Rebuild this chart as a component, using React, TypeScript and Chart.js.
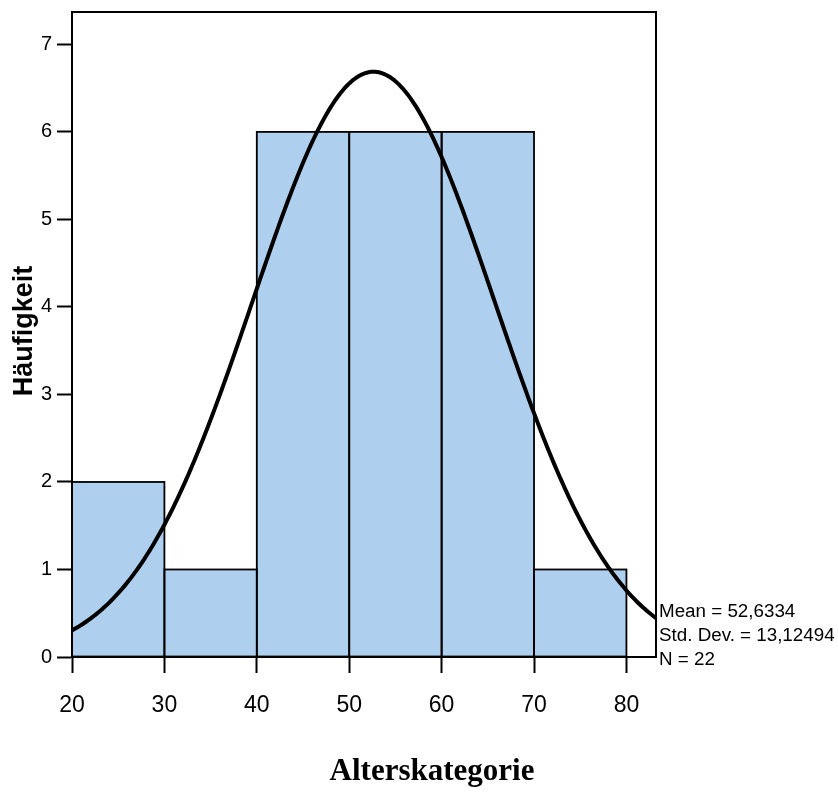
import React, { useEffect, useRef } from 'react';
import { Chart, registerables } from 'chart.js';

Chart.register(...registerables);

// ---- data ----
const BIN_STARTS = [20, 30, 40, 50, 60, 70];
const BIN_WIDTH = 10;
const FREQUENCIES = [2, 1, 6, 6, 6, 1];
const X_TICKS = [20, 30, 40, 50, 60, 70, 80];
const Y_TICKS = [0, 1, 2, 3, 4, 5, 6, 7];
const X_MIN = 20;
const X_MAX = 83.2;
const Y_MAX = 7.37;
const MEAN = 52.6334;
const STD_DEV = 13.12494;
const N = 22;
const STAT_LINES = ['Mean = 52,6334', 'Std. Dev. = 13,12494', 'N = 22'];
const X_TITLE = 'Alterskategorie';
const Y_TITLE = 'Häufigkeit';

const BAR_FILL = 'rgb(174,208,238)';
const SANS = "'Liberation Sans', Arial, sans-serif";
const SERIF = "'Liberation Serif', 'Times New Roman', serif";

function normalCurve() {
  const pts: { x: number; y: number }[] = [];
  const k = (N * BIN_WIDTH) / (STD_DEV * Math.sqrt(2 * Math.PI));
  for (let x = X_MIN; x <= X_MAX + 1e-9; x += 0.2) {
    const z = (x - MEAN) / STD_DEV;
    pts.push({ x, y: k * Math.exp(-0.5 * z * z) });
  }
  return pts;
}

const BAR_INDEX = 1;

const overlay = {
  id: 'overlay',
  afterDatasetDraw(chart: any, args: any) {
    if (args.index !== BAR_INDEX) return;
    const { ctx } = chart;
    const meta = chart.getDatasetMeta(BAR_INDEX);
    ctx.save();
    ctx.strokeStyle = '#000';
    ctx.lineWidth = 1.8;
    meta.data.forEach((el: any) => {
      const { x, y, base, width } = el.getProps(['x', 'y', 'base', 'width'], true);
      ctx.strokeRect(x - width / 2, y, width, base - y);
    });
    ctx.restore();
  },
  afterDatasetsDraw(chart: any) {
    const { ctx, chartArea: a } = chart;
    ctx.save();
    ctx.strokeStyle = '#000';
    ctx.lineWidth = 2;
    ctx.strokeRect(a.left, a.top, a.right - a.left, a.bottom - a.top);
    ctx.restore();
  },
  afterDraw(chart: any) {
    const { ctx, chartArea: a } = chart;
    ctx.save();
    ctx.fillStyle = '#000';
    // stats
    ctx.font = `18.8px ${SANS}`;
    ctx.textAlign = 'left';
    ctx.textBaseline = 'alphabetic';
    STAT_LINES.forEach((t, i) => {
      ctx.fillText(t, a.right + 3, a.bottom - 40 + i * 24);
    });
    // x title
    ctx.font = `bold 31px ${SERIF}`;
    ctx.textAlign = 'center';
    ctx.fillText(X_TITLE, 432, a.bottom + 123);
    // y title
    ctx.translate(32, a.top + (a.bottom - a.top) / 2 - 3.5);
    ctx.rotate(-Math.PI / 2);
    ctx.font = `bold 27px ${SANS}`;
    ctx.textAlign = 'center';
    ctx.textBaseline = 'alphabetic';
    ctx.fillText(Y_TITLE, 0, 0);
    ctx.restore();
  },
};

export default function App() {
  const ref = useRef<HTMLCanvasElement>(null);
  useEffect(() => {
    if (!ref.current) return;
    const chart = new Chart(ref.current, {
      type: 'bar',
      data: {
        datasets: [
          {
            type: 'line',
            data: normalCurve(),
            borderColor: '#000',
            borderWidth: 4,
            pointRadius: 0,
            tension: 0,
            fill: false,
            clip: 0,
          } as any,
          {
            type: 'bar',
            data: BIN_STARTS.map((s, i) => ({ x: s + BIN_WIDTH / 2, y: FREQUENCIES[i] })),
            backgroundColor: BAR_FILL,
            borderWidth: 0,
            barPercentage: 1,
            categoryPercentage: 1,
          } as any,
        ],
      },
      options: {
        responsive: false,
        animation: false,
        layout: { padding: { left: 0, top: 12, right: 182, bottom: 0 } },
        plugins: { legend: { display: false }, tooltip: { enabled: false }, title: { display: false } },
        scales: {
          x: {
            type: 'linear',
            min: X_MIN,
            max: X_MAX,
            offset: false,
            afterBuildTicks: (s: any) => {
              s.ticks = X_TICKS.map((v) => ({ value: v }));
            },
            afterFit: (s: any) => {
              s.height = 135;
              s.paddingLeft = 0;
              s.paddingRight = 0;
            },
            grid: {
              display: true,
              offset: false,
              drawOnChartArea: false,
              drawTicks: true,
              tickLength: 16,
              tickWidth: 2,
              tickColor: '#000',
            },
            border: { display: true, color: '#000', width: 2 },
            ticks: {
              color: '#000',
              font: { family: SANS, size: 23 },
              padding: 19,
              maxRotation: 0,
              autoSkip: false,
            },
          },
          y: {
            type: 'linear',
            min: 0,
            max: Y_MAX,
            afterBuildTicks: (s: any) => {
              s.ticks = Y_TICKS.map((v) => ({ value: v }));
            },
            afterFit: (s: any) => {
              s.width = 72;
              s.paddingTop = 0;
              s.paddingBottom = 0;
            },
            grid: {
              display: true,
              drawOnChartArea: false,
              drawTicks: true,
              tickLength: 15,
              tickWidth: 2,
              tickColor: '#000',
            },
            border: { display: true, color: '#000', width: 2 },
            ticks: {
              color: '#000',
              font: { family: SANS, size: 20 },
              padding: 5,
              autoSkip: false,
            },
          },
        },
      } as any,
      plugins: [overlay],
    });
    return () => chart.destroy();
  }, []);
  return (
    <div style={{ position: 'absolute', left: 0, top: 0, width: 838, height: 792, background: '#fff' }}>
      <canvas ref={ref} width={838} height={792} />
    </div>
  );
}
